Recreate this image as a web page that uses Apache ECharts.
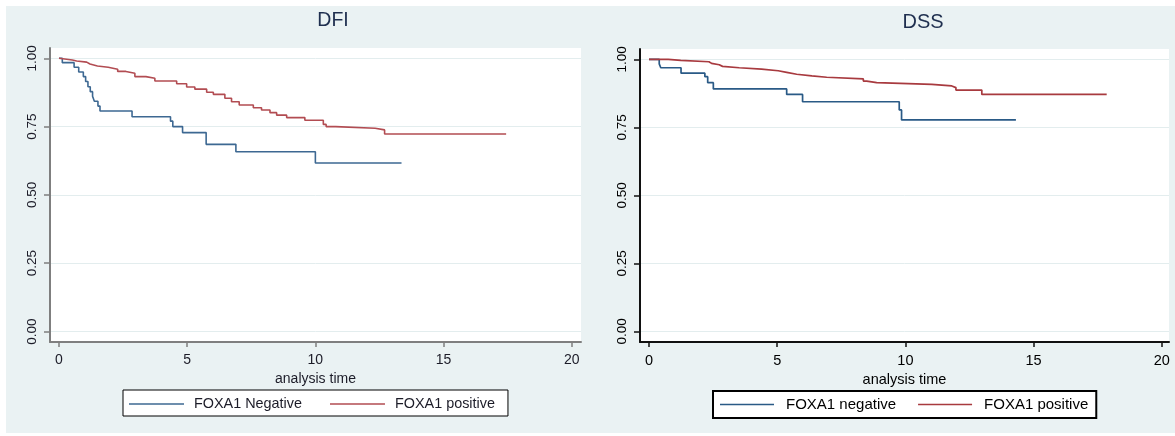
<!DOCTYPE html>
<html><head><meta charset="utf-8">
<script src="https://cdn.jsdelivr.net/npm/echarts@6/dist/echarts.min.js"></script>
<style>html,body{margin:0;padding:0;background:#fff}#c{width:1175px;height:436px}</style>
</head><body><div id="c"></div>
<script>
// ---- data ----
const panelTitles = ['DFI', 'DSS'];
const xAxisName = 'analysis time';
const xTicks = [0, 5, 10, 15, 20];
const yTicks = [0, 0.25, 0.5, 0.75, 1];

const dfiNegName = 'FOXA1 Negative';
const dfiPosName = 'FOXA1 positive';
const dssNegName = 'FOXA1 negative';
const dssPosName = 'FOXA1 positive';

const dfiNegTime = [0, 0.13, 0.59, 0.77, 0.95, 1.04, 1.13, 1.22, 1.31, 1.38, 1.52, 1.60, 2.85, 4.35, 4.44, 4.82, 5.74, 6.90, 10.0, 13.36];
const dfiNegSurv = [1.0, 0.984, 0.967, 0.95, 0.933, 0.915, 0.896, 0.878, 0.861, 0.843, 0.825, 0.807, 0.786, 0.770, 0.750, 0.728, 0.685, 0.658, 0.617, 0.617];

const dfiPosTime = [0, 0.05, 0.52, 0.69, 1.08, 1.21, 1.5, 1.92, 2.29, 2.61, 2.96, 3.39, 3.74, 4.59, 4.98, 5.30, 5.76, 6.02, 6.47, 6.73, 7.03, 7.58, 7.9, 8.23, 8.49, 8.88, 9.59, 10.31, 10.42, 10.79, 12.33, 12.7, 17.44];
const dfiPosSurv = [1.0, 0.994, 0.99, 0.986, 0.979, 0.972, 0.967, 0.96, 0.952, 0.945, 0.933, 0.927, 0.917, 0.907, 0.895, 0.887, 0.876, 0.868, 0.854, 0.841, 0.829, 0.819, 0.811, 0.801, 0.792, 0.783, 0.773, 0.758, 0.75, 0.744, 0.738, 0.723, 0.723];

const dssNegTime = [0, 0.40, 0.46, 1.25, 2.18, 2.29, 2.51, 5.37, 5.99, 9.76, 9.85, 14.31];
const dssNegSurv = [1.0, 0.983, 0.969, 0.949, 0.936, 0.914, 0.891, 0.871, 0.844, 0.814, 0.777, 0.777];

const dssPosTime = [0, 0.75, 1.24, 2.34, 2.44, 2.74, 2.87, 3.52, 4.39, 5.04, 5.37, 5.76, 6.35, 6.93, 8.36, 8.49, 8.88, 11.03, 11.81, 11.97, 12.98, 17.85];
const dssPosSurv = [1.0, 0.996, 0.991, 0.985, 0.98, 0.974, 0.969, 0.964, 0.958, 0.952, 0.945, 0.939, 0.934, 0.928, 0.920, 0.914, 0.908, 0.902, 0.896, 0.887, 0.871, 0.871];

// ---- styling ----
const FONT = "'Liberation Sans', Arial, sans-serif";
const blueL = '#3d6892', redL = '#b24c52';
const blueR = '#2a5a86', redR = '#a83a3f';
const zip = (t, s) => t.map((v, i) => [v, s[i]]);

function xAxisFor(gi, min, max, lineColor, txtColor, fs, nameGap) {
  return {
    gridIndex: gi, type: 'value', min: min, max: max,
    name: xAxisName, nameLocation: 'middle', nameGap: nameGap,
    nameTextStyle: {fontFamily: FONT, fontSize: fs, color: txtColor},
    axisLine: {show: true, onZero: false, lineStyle: {color: lineColor, width: 2}},
    axisTick: {show: true, customValues: xTicks, length: 5, lineStyle: {color: lineColor, width: 1.5}},
    axisLabel: {customValues: xTicks, margin: 11, fontFamily: FONT, fontSize: fs, color: txtColor},
    splitLine: {show: false}
  };
}
function yAxisFor(gi, min, max, lineColor, txtColor, fs) {
  return {
    gridIndex: gi, type: 'value', min: min, max: max,
    axisLine: {show: true, onZero: false, lineStyle: {color: lineColor, width: 2}},
    axisTick: {show: true, customValues: yTicks, length: 6, lineStyle: {color: lineColor, width: 1.5}},
    axisLabel: {customValues: yTicks, rotate: 90, margin: 11, fontFamily: FONT, fontSize: fs, color: txtColor,
                formatter: v => v.toFixed(2)},
    splitLine: {show: true, lineStyle: {color: '#e3edee', width: 1}}
  };
}

const chart = echarts.init(document.getElementById('c'));
chart.setOption({
  animation: false,
  backgroundColor: '#ffffff',
  graphic: [{type: 'rect', z: -10, silent: true, shape: {x: 6, y: 6, width: 1169, height: 427}, style: {fill: '#eaf2f3'}}],
  title: [
    {text: panelTitles[0], left: 333, top: 11, textAlign: 'center', padding: 0,
     textStyle: {fontFamily: FONT, fontSize: 19.5, fontWeight: 'normal', color: '#1f2f4f'}},
    {text: panelTitles[1], left: 923, top: 12, textAlign: 'center', padding: 0,
     textStyle: {fontFamily: FONT, fontSize: 20, fontWeight: 'normal', color: '#1f2f4f'}}
  ],
  grid: [
    {left: 50, top: 48, width: 531, height: 294, show: true, backgroundColor: '#ffffff', borderWidth: 0},
    {left: 640, top: 49, width: 529, height: 293, show: true, backgroundColor: '#ffffff', borderWidth: 0}
  ],
  xAxis: [
    xAxisFor(0, -0.35, 20.36, '#7f7f7f', '#1c1c28', 14, 22),
    xAxisFor(1, -0.35, 20.28, '#111111', '#000000', 14.5, 18)
  ],
  yAxis: [
    yAxisFor(0, -0.0384, 1.0377, '#7f7f7f', '#1c1c28', 13.5),
    yAxisFor(1, -0.0394, 1.0379, '#111111', '#000000', 13.5)
  ],
  legend: [
    {left: 123, top: 390, orient: 'horizontal', icon: 'rect', itemWidth: 55, itemHeight: 1.5, itemGap: 28,
     padding: [7, 13, 5, 6], borderColor: '#000', borderWidth: 1, backgroundColor: '#fff', selectedMode: false,
     textStyle: {fontFamily: FONT, fontSize: 14.4, color: '#1c1c28', padding: [0, 0, 0, 5]},
     data: [{name: dfiNegName, itemStyle: {color: blueL}}, {name: dfiPosName, itemStyle: {color: redL}}]},
    {left: 713, top: 391, orient: 'horizontal', icon: 'rect', itemWidth: 54, itemHeight: 1.5, itemGap: 22,
     padding: [6, 8, 6, 7], borderColor: '#000', borderWidth: 2, backgroundColor: '#fff', selectedMode: false,
     textStyle: {fontFamily: FONT, fontSize: 15, color: '#000', padding: [0, 0, 0, 7]},
     data: [{name: dssNegName, itemStyle: {color: blueR}}, {name: dssPosName, itemStyle: {color: redR}}]}
  ],
  series: [
    {name: dfiNegName, type: 'line', step: 'end', xAxisIndex: 0, yAxisIndex: 0, symbol: 'none',
     lineStyle: {color: blueL, width: 1.6}, itemStyle: {color: blueL}, data: zip(dfiNegTime, dfiNegSurv)},
    {name: dfiPosName, type: 'line', step: 'end', xAxisIndex: 0, yAxisIndex: 0, symbol: 'none',
     lineStyle: {color: redL, width: 1.6}, itemStyle: {color: redL}, data: zip(dfiPosTime, dfiPosSurv)},
    {name: dssNegName, type: 'line', step: 'end', xAxisIndex: 1, yAxisIndex: 1, symbol: 'none',
     lineStyle: {color: blueR, width: 1.7}, itemStyle: {color: blueR}, data: zip(dssNegTime, dssNegSurv)},
    {name: dssPosName, type: 'line', step: 'end', xAxisIndex: 1, yAxisIndex: 1, symbol: 'none',
     lineStyle: {color: redR, width: 1.7}, itemStyle: {color: redR}, data: zip(dssPosTime, dssPosSurv)}
  ]
});
</script>
</body></html>
